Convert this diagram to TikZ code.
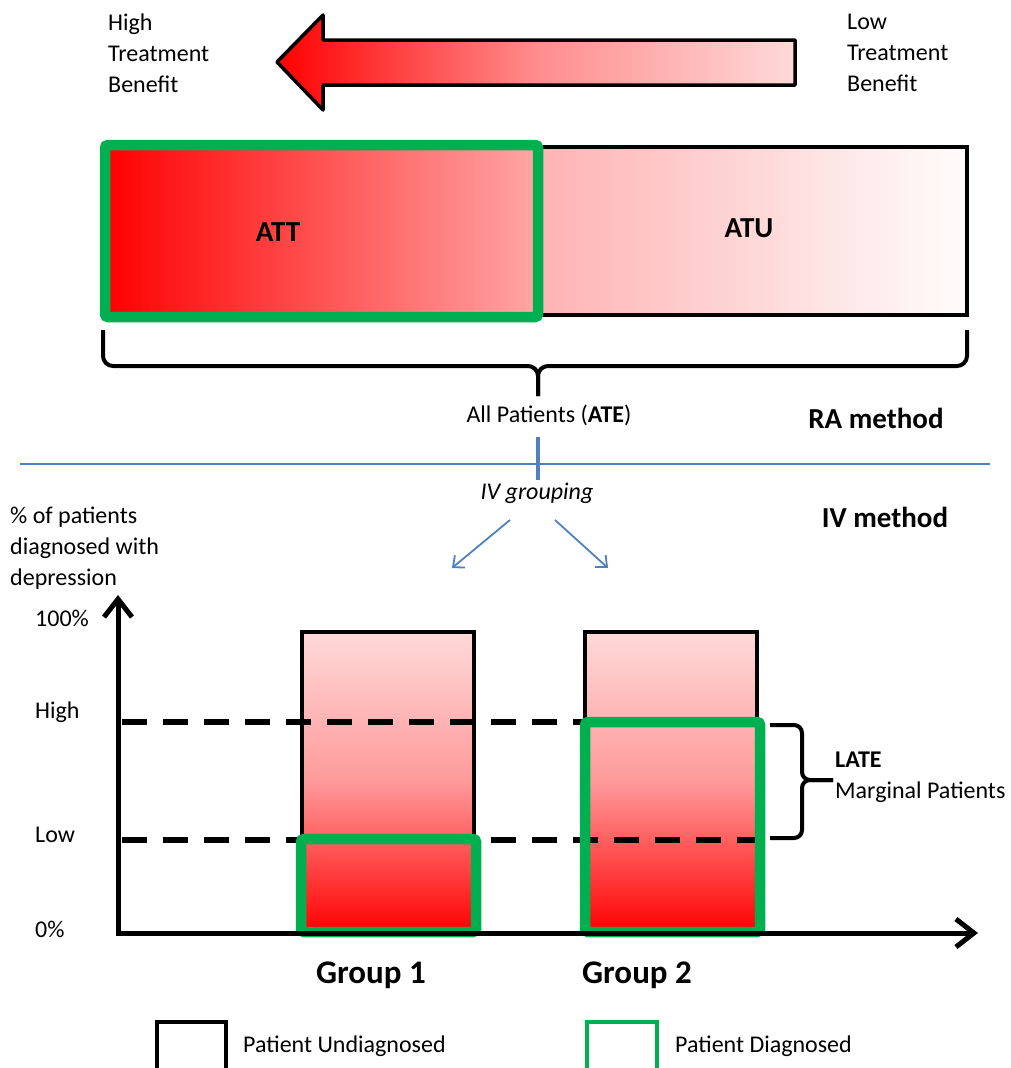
\documentclass[tikz,border=0pt]{standalone}
\usepackage{fontspec}
\setmainfont{Carlito}
\usetikzlibrary{arrows.meta,positioning,calc}
\definecolor{dxGreen}{RGB}{0,176,80}
\definecolor{ivBlue}{RGB}{79,129,189}
\tikzset{
  txt/.style={font=\fontsize{24}{31}\selectfont, inner sep=0pt},
  txtbold/.style={font=\fontsize{29}{31}\selectfont\bfseries, inner sep=0pt},
  grouplbl/.style={font=\fontsize{33}{36}\selectfont\bfseries, inner sep=0pt},
  dxbox/.style={draw=dxGreen, line width=10.5pt, rounded corners=3pt},
  undxbox/.style={draw=black, line width=3.5pt},
  axisln/.style={-{Straight Barb[length=18pt,width=28pt]}, line width=5pt},
  levelln/.style={dash pattern=on 25pt off 16pt, line width=5.5pt},
  braceln/.style={line width=4pt, rounded corners=10pt},
  ivarrow/.style={-{Straight Barb[length=9pt,width=16pt]}, line width=1.8pt, ivBlue},
}

\begin{document}
\begin{tikzpicture}[x=1pt, y=-1pt]
    \useasboundingbox (0,0) rectangle (1010,1068);
    \clip (0,0) rectangle (1010,1068);
    % --- benefit arrow ---
    \shadedraw[left color=red, right color=red!15, middle color=red!45, draw=black, line width=3.5pt, line join=round]
      (277,62) -- (323,15) -- (323,40) -- (795,40) -- (795,85) -- (323,85) -- (323,110) -- cycle;
    \node[txt, anchor=north west, align=left] (highben) at (108,14) {High\\Treatment\\Benefit};
    \node[txt, anchor=north west, align=left] (lowben) at (847,14) {Low\\Treatment\\Benefit};
    % --- RA method: ATT / ATU ---
    \shade[left color=red, right color=red!35] (105,145) rectangle (538,317);
    \shadedraw[left color=red!30, right color=red!1, undxbox] (538,147) rectangle (967,315);
    \draw[dxbox] (105,145) rectangle (538,317);
    \node[txtbold] (att) at (278,232) {ATT};
    \node[txtbold] (atu) at (749,228) {ATU};
    % brace over all patients
    \coordinate (braceL) at (103,330);
    \coordinate (braceR) at (967,330);
    \coordinate (braceTip) at (538,396);
    \draw[braceln] (braceL) -- (103,366) -- (538,366) -- (braceTip);
    \draw[braceln] (braceR) -- (967,366) -- (538,366) -- (braceTip);
    \node[txt] (ate) at (549,415) {All Patients (\textbf{ATE})};
    \node[txtbold] (ra) at (876,418) {RA method};
    % --- separator ---
    \draw[ivBlue, line width=1.6pt] (20,464) -- (990,464);
    \draw[ivBlue, line width=4pt] (538,437) -- (538,480);
    \node[txt, font=\fontsize{24}{31}\selectfont\itshape] (ivgroup) at (537,493) {IV grouping};
    \node[txtbold] (iv) at (885,517) {IV method};
    \coordinate (split1) at (510,520);
    \coordinate (split2) at (555,520);
    \coordinate (g1arr) at (452,568);
    \coordinate (g2arr) at (608,568);
    \draw[ivarrow] (split1) -- (g1arr);
    \draw[ivarrow] (split2) -- (g2arr);
    % --- IV method: groups ---
    \node[txt, anchor=north west, align=left] (ylabel) at (10,507) {\% of patients\\diagnosed with\\depression};
    \shadedraw[top color=red!15, bottom color=red, middle color=red!40, undxbox] (302,632) rectangle (474,933);
    \shadedraw[top color=red!15, bottom color=red, middle color=red!40, undxbox] (585,632) rectangle (757,933);
    % levels High / Low
    \draw[levelln] (122,722) -- (760,722);
    \draw[levelln] (122,840) -- (760,840);
    \draw[dxbox] (301,839) rectangle (476,932);
    \draw[dxbox] (585,722) rectangle (760,932);
    % axes
    \coordinate (origin) at (118,933);
    \coordinate (ytop) at (118,595);
    \coordinate (xend) at (978,933);
    \draw[axisln] (118,936) -- (ytop);
    \draw[axisln] (116,933) -- (xend);
    \node[txt, anchor=west] (p100) at (35,618) {100\%};
    \node[txt, anchor=west] (phigh) at (35,712) {High};
    \node[txt, anchor=west] (plow) at (35,835) {Low};
    \node[txt, anchor=west] (p0) at (35,929) {0\%};
    % marginal patients brace
    \coordinate (lateTip) at (833,780);
    \draw[braceln, rounded corners=8pt] (770,725) -- (802,725) -- (802,780) -- (lateTip);
    \draw[braceln, rounded corners=8pt] (770,838) -- (802,838) -- (802,780) -- (lateTip);
    \node[txt, anchor=north west, align=left] (late) at (835,752) {\textbf{LATE}\\Marginal Patients};
    \node[grouplbl] (grp1) at (371,975) {Group 1};
    \node[grouplbl] (grp2) at (637,975) {Group 2};
    % --- legend ---
    \draw[undxbox, line width=4pt] (157,1022) rectangle (226,1080);
    \draw[draw=dxGreen, line width=4pt] (587,1022) rectangle (657,1080);
    \node[txt, anchor=west] (undx) at (243,1046) {Patient Undiagnosed};
    \node[txt, anchor=west] (dx) at (675,1046) {Patient Diagnosed};
  \end{tikzpicture}
\end{document}
